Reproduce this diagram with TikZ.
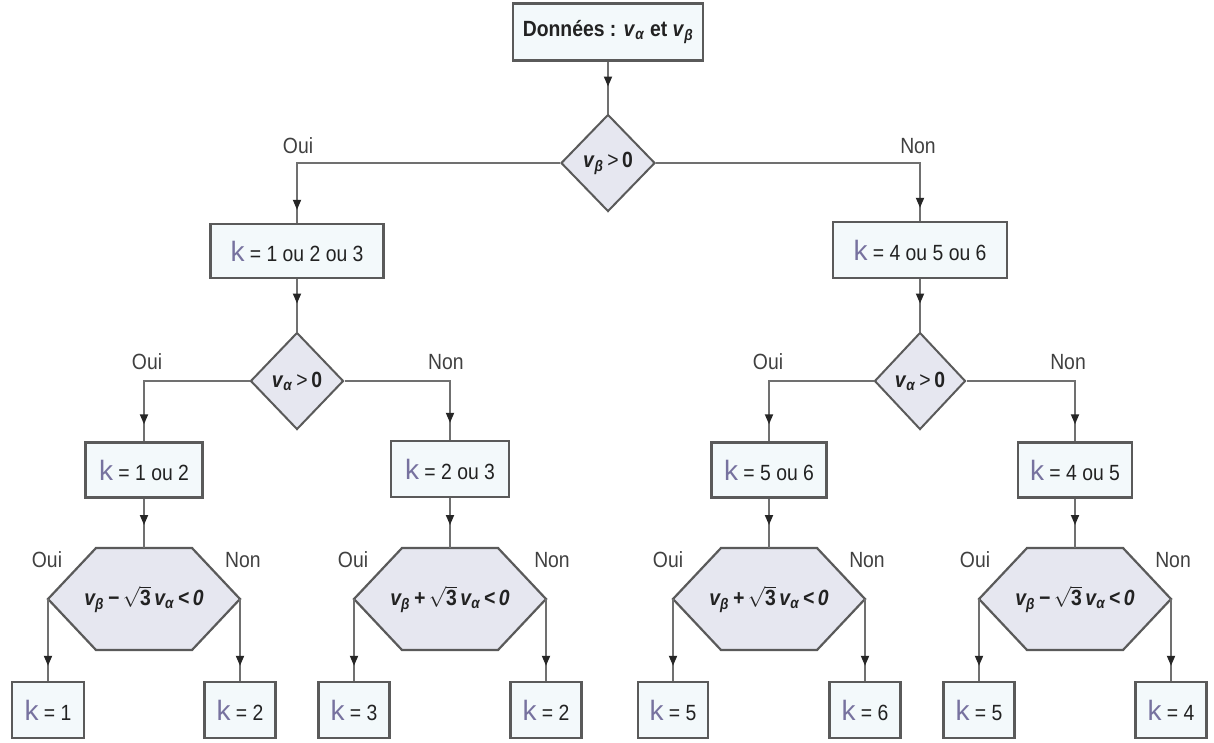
\documentclass[tikz,border=0pt]{standalone}
\usepackage{fontspec}
\setmainfont{Liberation Sans}[FakeStretch=0.88]
\newfontfamily\kfont{Liberation Sans}
\usetikzlibrary{shapes.geometric,arrows.meta,decorations.markings}
\definecolor{boxfill}{HTML}{F3F9FB}
\definecolor{shapefill}{HTML}{E6E7F0}
\definecolor{bordc}{HTML}{5A5A5A}
\definecolor{linec}{HTML}{707070}
\definecolor{kc}{HTML}{77729F}
\definecolor{txtc}{HTML}{222222}
\newcommand{\kk}{{\kfont\fontsize{28}{28}\selectfont\color{kc}k}}
\newcommand{\valpha}{\textbf{\textit{v}}\textsubscript{\textbf{\textit{α}}}}
\newcommand{\vbeta}{\textbf{\textit{v}}\textsubscript{\textbf{\textit{β}}}}
\newcommand{\sqthree}{$\sqrt{\mbox{\upshape\bfseries 3}}$}
\tikzset{
  every node/.style={font=\fontsize{22}{24}\selectfont, text=txtc},
  box/.style={draw=bordc, line width=2.4pt, fill=boxfill, rectangle, inner sep=0pt},
  dia/.style={draw=bordc, line width=2pt, fill=shapefill, diamond, inner sep=0pt,
    minimum width=94pt, minimum height=97pt},
  hexshape/.style={draw=bordc, line width=2.2pt, fill=shapefill, line join=miter},
  lbl/.style={inner sep=0pt, text=black!75},
  conn/.style={draw=linec, line width=1.8pt, postaction={decorate},
    decoration={markings, mark=at position #1 with {\arrow[color=black!85]{Triangle[width=8pt,length=10pt]}}}},
}
\newcommand{\hexagonat}[4]{%
  \draw[hexshape] ({#2-96},{#3}) -- ({#2-48},{#3-51}) -- ({#2+48},{#3-51}) -- ({#2+96},{#3})
     -- ({#2+48},{#3+51}) -- ({#2-48},{#3+51}) -- cycle;
  \node[inner sep=0pt] (#1) at (#2,#3) {\bfseries\itshape #4};
  \coordinate (#1l) at ({#2-96},{#3});
  \coordinate (#1r) at ({#2+96},{#3});
  \coordinate (#1t) at ({#2},{#3-51});
}
\begin{document}
\begin{tikzpicture}[x=1pt,y=-1pt]
\useasboundingbox (0,0) rectangle (1214,742);
\fill[white] (0,0) rectangle (1214,742);

% top
\node[box, minimum width=190pt, minimum height=57pt] (top) at (608,32)
  {\bfseries Données : \valpha\ et \vbeta};
\node[dia] (d1) at (608,163) {\makebox[0pt]{\vbeta\,>\,\textbf{0}}};

% level 1 boxes
\node[box, minimum width=173pt, minimum height=54pt] (b1) at (297,251) {\kk\ = 1 ou 2 ou 3};
\node[box, minimum width=174pt, minimum height=56pt] (b2) at (920,250) {\kk\ = 4 ou 5 ou 6};

% level 2 diamonds
\node[dia, minimum width=93pt] (d2) at (297,381) {\makebox[0pt]{\valpha\,>\,\textbf{0}}};
\node[dia, minimum width=91pt] (d3) at (920,381) {\makebox[0pt]{\valpha\,>\,\textbf{0}}};

% level 2 boxes
\node[box, minimum width=117pt, minimum height=55pt] (b11) at (144,470) {\kk\ = 1 ou 2};
\node[box, minimum width=118pt, minimum height=56pt] (b12) at (450,469) {\kk\ = 2 ou 3};
\node[box, minimum width=115pt, minimum height=55pt] (b21) at (769,470) {\kk\ = 5 ou 6};
\node[box, minimum width=114pt, minimum height=55pt] (b22) at (1075,470) {\kk\ = 4 ou 5};

% hexagons
\hexagonat{h1}{144}{599}{\vbeta\,−\,\sqthree\,\valpha\,<\,0}
\hexagonat{h2}{450}{599}{\vbeta\,+\,\sqthree\,\valpha\,<\,0}
\hexagonat{h3}{769}{599}{\vbeta\,+\,\sqthree\,\valpha\,<\,0}
\hexagonat{h4}{1075}{599}{\vbeta\,−\,\sqthree\,\valpha\,<\,0}

% leaves
\node[box, minimum width=72pt, minimum height=56pt] (k1) at (48,710) {\kk\ = 1};
\node[box, minimum width=71pt, minimum height=56pt] (k2) at (240,710) {\kk\ = 2};
\node[box, minimum width=71pt, minimum height=56pt] (k3) at (354,710) {\kk\ = 3};
\node[box, minimum width=71pt, minimum height=56pt] (k4) at (546,710) {\kk\ = 2};
\node[box, minimum width=70pt, minimum height=56pt] (k5) at (673,710) {\kk\ = 5};
\node[box, minimum width=71pt, minimum height=56pt] (k6) at (865,710) {\kk\ = 6};
\node[box, minimum width=71pt, minimum height=56pt] (k7) at (979,710) {\kk\ = 5};
\node[box, minimum width=71pt, minimum height=56pt] (k8) at (1171,710) {\kk\ = 4};

% connectors
\draw[conn=-27pt] (top.south) -- (d1.north);
\draw[conn=-13pt] (d1.west) -| (b1.north);
\draw[conn=-13pt] (d1.east) -| (b2.north);
\draw[conn=-28pt] (b1.south) -- (d2.north);
\draw[conn=-28pt] (b2.south) -- (d3.north);
\draw[conn=-17pt] (d2.west) -| (b11.north);
\draw[conn=-17pt] (d2.east) -| (b12.north);
\draw[conn=-17pt] (d3.west) -| (b21.north);
\draw[conn=-17pt] (d3.east) -| (b22.north);
\draw[conn=-23pt] (b11.south) -- (h1t);
\draw[conn=-23pt] (b12.south) -- (h2t);
\draw[conn=-23pt] (b21.south) -- (h3t);
\draw[conn=-23pt] (b22.south) -- (h4t);
\draw[conn=-15pt] (h1l) -- (k1.north);
\draw[conn=-15pt] (h1r) -- (k2.north);
\draw[conn=-15pt] (h2l) -- (k3.north);
\draw[conn=-15pt] (h2r) -- (k4.north);
\draw[conn=-15pt] (h3l) -- (k5.north);
\draw[conn=-15pt] (h3r) -- (k6.north);
\draw[conn=-15pt] (h4l) -- (k7.north);
\draw[conn=-15pt] (h4r) -- (k8.north);

% labels
\node[lbl] (o1) at (298,146) {Oui};
\node[lbl] (n1) at (918,146) {Non};
\node[lbl] (o2) at (147,362) {Oui};
\node[lbl] (n2) at (446,362) {Non};
\node[lbl] (o3) at (768,362) {Oui};
\node[lbl] (n3) at (1068,362) {Non};
\node[lbl] (o4) at (47,560) {Oui};
\node[lbl] (n4) at (243,560) {Non};
\node[lbl] (o5) at (353,560) {Oui};
\node[lbl] (n5) at (552,560) {Non};
\node[lbl] (o6) at (668,560) {Oui};
\node[lbl] (n6) at (867,560) {Non};
\node[lbl] (o7) at (975,560) {Oui};
\node[lbl] (n7) at (1173,560) {Non};
\end{tikzpicture}
\end{document}
